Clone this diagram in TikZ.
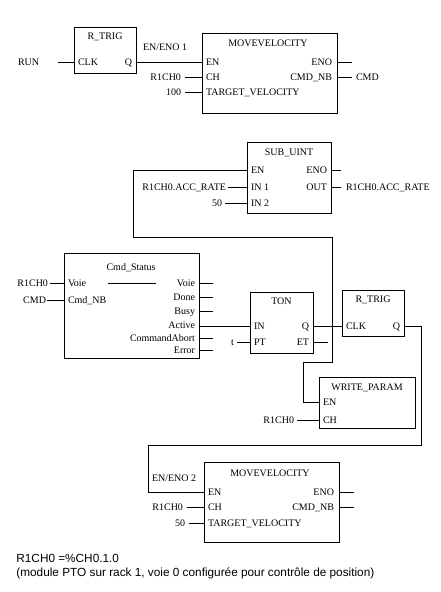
\documentclass[tikz,border=0pt]{standalone}
\usepackage{fontspec}
\setmainfont{Liberation Serif}
\newfontfamily\footfont{Liberation Sans}
\begin{document}
\begin{tikzpicture}[x=1pt,y=-1pt,line width=0.8pt,
  block/.style={draw,rectangle,anchor=north west,inner sep=0pt,outer sep=0pt},
  lbl/.style={inner sep=0pt,outer sep=0pt,text height=6.6pt,text depth=0pt,font=\fontsize{10}{12}\selectfont},
  lw/.style={lbl,anchor=west},
  le/.style={lbl,anchor=east},
  ttl/.style={lbl,anchor=center},
  foot/.style={inner sep=0pt,anchor=west,font=\footfont\fontsize{11.8}{14}\selectfont}]
\useasboundingbox (0,0) rectangle (440,592);

% ---------- blocks ----------
\node[block,minimum width=62pt,minimum height=46pt] (rt1) at (74,27) {};
\node[block,minimum width=135pt,minimum height=80pt] (mv1) at (202,33) {};
\node[block,minimum width=84pt,minimum height=71pt] (sub) at (247,142) {};
\node[block,minimum width=135pt,minimum height=105pt] (cs) at (64,253) {};
\node[block,minimum width=63pt,minimum height=61pt] (ton) at (250,292) {};
\node[block,minimum width=62pt,minimum height=46pt] (rt2) at (342,290) {};
\node[block,minimum width=96pt,minimum height=51pt] (wp) at (319,377) {};
\node[block,minimum width=135pt,minimum height=80pt] (mv2) at (204,462) {};

% ---------- titles ----------
\node[ttl] (rt1t) at (105,36) {R\_TRIG};
\node[ttl] (mv1t) at (268,43) {MOVEVELOCITY};
\node[ttl] (subt) at (289,152) {SUB\_UINT};
\node[ttl] (cst) at (131,267) {Cmd\_Status};
\node[ttl] (tont) at (281.5,301) {TON};
\node[ttl] (rt2t) at (373,299) {R\_TRIG};
\node[ttl] (wpt) at (367,387) {WRITE\_PARAM};
\node[ttl] (mv2t) at (270,473) {MOVEVELOCITY};

% ---------- pin coordinates ----------
\coordinate (rt1clk) at (74,62);  \coordinate (rt1q) at (136,62);
\coordinate (mv1en) at (202,62);  \coordinate (mv1ch) at (202,77);  \coordinate (mv1tv) at (202,92);
\coordinate (mv1eno) at (337,62); \coordinate (mv1nb) at (337,77);
\coordinate (suben) at (247,170); \coordinate (subin1) at (247,187); \coordinate (subin2) at (247,203);
\coordinate (subeno) at (331,170); \coordinate (subout) at (331,187);
\coordinate (csvoie) at (64,283); \coordinate (csnb) at (64,300);
\coordinate (csovoie) at (199,283); \coordinate (csdone) at (199,297); \coordinate (csbusy) at (199,311);
\coordinate (csactive) at (199,326); \coordinate (csabort) at (199,338); \coordinate (cserror) at (199,350);
\coordinate (tonin) at (250,326); \coordinate (tonpt) at (250,342);
\coordinate (tonq) at (313,326); \coordinate (tonet) at (313,342);
\coordinate (rt2clk) at (342,326); \coordinate (rt2q) at (404,326);
\coordinate (wpen) at (319,402); \coordinate (wpch) at (319,420);
\coordinate (mv2en) at (204,492); \coordinate (mv2ch) at (204,507); \coordinate (mv2tv) at (204,523);
\coordinate (mv2eno) at (339,492); \coordinate (mv2nb) at (339,507);

% ---------- pin labels ----------
\node[lw] (a1) at (78,62) {CLK};   \node[le] (a2) at (132,62) {Q};
\node[lw] (b1) at (206,62) {EN};   \node[lw] (b2) at (206,77) {CH};  \node[lw] (b3) at (206,92) {TARGET\_VELOCITY};
\node[le] (b4) at (332,62) {ENO};  \node[le] (b5) at (332,77) {CMD\_NB};
\node[lw] (c1) at (251,170) {EN};  \node[lw] (c2) at (251,187) {IN 1}; \node[lw] (c3) at (251,203) {IN 2};
\node[le] (c4) at (327,170) {ENO}; \node[le] (c5) at (327,187) {OUT};
\node[lw] (d1) at (68,283) {Voie}; \node[lw] (d2) at (68,300) {Cmd\_NB};
\node[le] (d3) at (195,283) {Voie}; \node[le] (d4) at (195,297) {Done}; \node[le] (d5) at (195,311) {Busy};
\node[le] (d6) at (195,325) {Active}; \node[le] (d7) at (195,338) {CommandAbort}; \node[le] (d8) at (195,350) {Error};
\node[lw] (e1) at (254,326) {IN};  \node[lw] (e2) at (254,342) {PT};
\node[le] (e3) at (309,326) {Q};   \node[le] (e4) at (309,342) {ET};
\node[lw] (f1) at (346,326) {CLK}; \node[le] (f2) at (400,326) {Q};
\node[lw] (g1) at (323,402) {EN};  \node[lw] (g2) at (323,420) {CH};
\node[lw] (h1) at (208,492) {EN};  \node[lw] (h2) at (208,507) {CH};  \node[lw] (h3) at (208,523) {TARGET\_VELOCITY};
\node[le] (h4) at (334,492) {ENO}; \node[le] (h5) at (334,507) {CMD\_NB};

% ---------- external labels ----------
\node[lw] (run) at (18,62) {RUN};
\node[lw] (en1) at (143,47) {EN/ENO 1};
\node[le] (v1) at (181,77) {R1CH0};
\node[le] (v2) at (181,92) {100};
\node[lw] (cmd1) at (356,77) {CMD};
\node[le] (acc1) at (226,187) {R1CH0.ACC\_RATE};
\node[le] (v3) at (222,203) {50};
\node[lw] (acc2) at (346,187) {R1CH0.ACC\_RATE};
\node[le] (v4) at (48,283) {R1CH0};
\node[le] (cmd2) at (46,300) {CMD};
\node[le] (tt) at (234,342) {t};
\node[le] (v5) at (294,420) {R1CH0};
\node[lw] (en2) at (152,478) {EN/ENO 2};
\node[le] (v6) at (183,507) {R1CH0};
\node[le] (v7) at (185,523) {50};

% ---------- stub ends ----------
\coordinate (s1) at (58,62);
\coordinate (s2) at (185,77); \coordinate (s3) at (185,92);
\coordinate (s4) at (352,62); \coordinate (s5) at (352,77);
\coordinate (s6) at (228,187); \coordinate (s7) at (225,203);
\coordinate (s8) at (341,170); \coordinate (s9) at (341,187);
\coordinate (s10) at (50,283); \coordinate (s11) at (47,300);
\coordinate (s12) at (237,342); \coordinate (s13) at (328,342);
\coordinate (s14) at (297,420);
\coordinate (s15) at (187,507); \coordinate (s16) at (189,523);
\coordinate (s17) at (354,492); \coordinate (s18) at (354,507);

% ---------- wires ----------
\draw (s1) -- (rt1clk);
\draw (rt1q) -- (mv1en);
\draw (s2) -- (mv1ch); \draw (s3) -- (mv1tv);
\draw (mv1eno) -- (s4); \draw (mv1nb) -- (s5);
\draw (s6) -- (subin1); \draw (s7) -- (subin2);
\draw (subeno) -- (s8); \draw (subout) -- (s9);
\draw (s10) -- (csvoie); \draw (s11) -- (csnb);
\draw (108,283) -- (156,283);
\foreach \p in {csovoie,csdone,csbusy,csabort,cserror} \draw (\p) -- ++(14,0);
\draw (csactive) -- (tonin);
\draw (s12) -- (tonpt);
\draw (tonet) -- (s13);
\draw (tonq) -- (rt2clk);
\draw (s14) -- (wpch);
\draw (s15) -- (mv2ch); \draw (s16) -- (mv2tv);
\draw (mv2eno) -- (s17); \draw (mv2nb) -- (s18);
% TON.Q -> SUB_UINT.EN and WRITE_PARAM.EN
\draw (suben) -- (133,170) -- (133,237) -- (332,237) -- (332,362) -- (303,362) -- (303,402) -- (wpen);
% R_TRIG.Q -> MOVEVELOCITY 2 EN
\draw (rt2q) -- (421,326) -- (421,445) -- (148,445) -- (148,492) -- (mv2en);

% ---------- footer ----------
\node[foot] (n1) at (16,558) {R1CH0 =\%CH0.1.0};
\node[foot] (n2) at (16,573) {(module PTO sur rack 1, voie 0 configurée pour contrôle de position)};
\end{tikzpicture}
\end{document}
